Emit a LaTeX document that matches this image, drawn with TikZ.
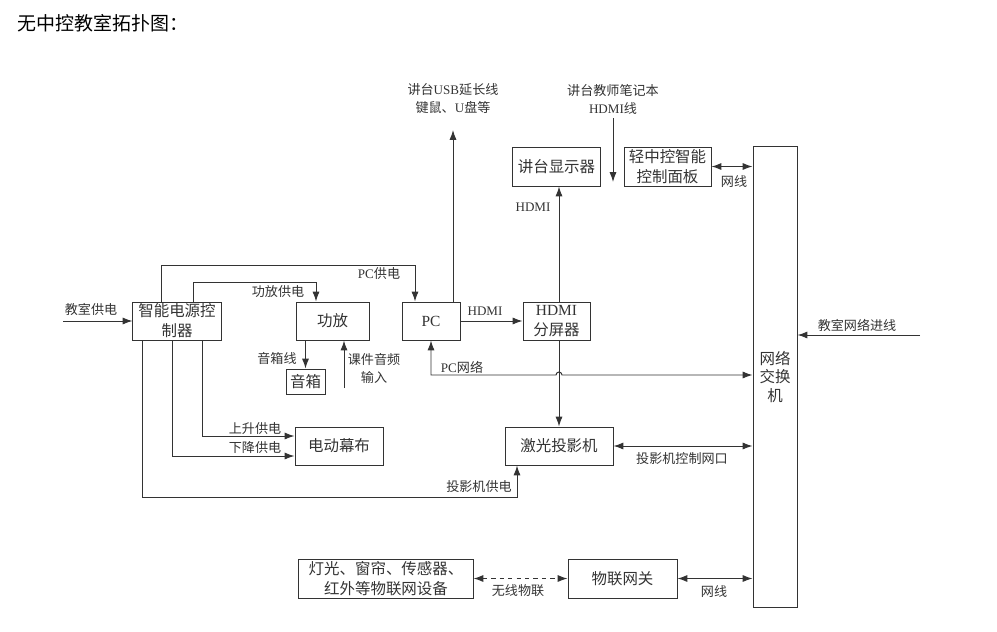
\documentclass[tikz,border=0pt]{standalone}
\usepackage{fontspec}
\setmainfont{Noto Sans CJK SC}
\newfontfamily\ltn{Liberation Serif}
\usepackage{tikz}
\usetikzlibrary{arrows.meta}
\tikzset{>={Latex[length=7pt,width=5pt]}}
\tikzset{
  box/.style={draw,inner sep=0pt,align=center,font=\fontsize{11}{14.2}\selectfont},
  lbl/.style={inner sep=0pt,align=center,font=\fontsize{9.3}{12.8}\selectfont},
}

\begin{document}
\begin{tikzpicture}[x=0.025cm,y=-0.025cm,line width=0.7pt,color=black!80]
	\useasboundingbox (0,0) rectangle (997,631);
	\node[anchor=west,inner sep=0pt,text=black,font=\fontsize{13.5}{16}\selectfont] (title) at (17,23) {无中控教室拓扑图：};
	% boxes
	\node[box,minimum width=2.2cm,minimum height=0.95cm] (pwr) at (177,321) {智能电源控\\制器};
	\node[box,minimum width=1.825cm,minimum height=0.95cm] (amp) at (332.5,321) {功放};
	\node[box,minimum width=0.975cm,minimum height=0.625cm] (spk) at (305.5,381.5) {音箱};
	\node[box,minimum width=1.45cm,minimum height=0.95cm] (pc) at (431,321) {\ltn PC};
	\node[box,minimum width=1.675cm,minimum height=0.95cm] (split) at (556.5,321) {{\ltn HDMI}\\分屏器};
	\node[box,minimum width=2.7cm,minimum height=0.95cm] (proj) at (559,446) {激光投影机};
	\node[box,minimum width=2.2cm,minimum height=0.975cm] (disp) at (556.5,166.5) {讲台显示器};
	\node[box,minimum width=2.175cm,minimum height=0.975cm] (panel) at (667.5,166.5) {轻中控智能\\控制面板};
	\node[box,minimum width=1.1cm,minimum height=11.5cm,font=\fontsize{11}{13.5}\selectfont] (sw) at (775,377) {网络\\交换\\机};
	\node[box,minimum width=2.2cm,minimum height=0.95cm] (screen) at (339,446) {电动幕布};
	\node[box,minimum width=4.35cm,minimum height=0.975cm] (iot) at (386,578.5) {灯光、窗帘、传感器、\\红外等物联网设备};
	\node[box,minimum width=2.725cm,minimum height=0.975cm] (gw) at (622.5,578.5) {物联网关};
	% free ends and bends
	\coordinate (pwrin) at (63,321);
	\coordinate (pcpwA) at (161,265);
	\coordinate (pcpwB) at (415,265);
	\coordinate (amppwA) at (193,282);
	\coordinate (amppwB) at (316,282);
	\coordinate (audin) at (344,388);
	\coordinate (upA) at (202,436);
	\coordinate (dnA) at (172,456);
	\coordinate (pjA) at (142,497);
	\coordinate (pjB) at (517,497);
	\coordinate (usb) at (453,130);
	\coordinate (lapA) at (613,118);
	\coordinate (lapB) at (613,182);
	\coordinate (netin) at (920,335);
	\coordinate (hopL) at (556,375);
	% power
	\draw[->] (pwrin)--(pwr.west);
	\node[lbl] (lpwrin) at (91,309) {教室供电};
	\draw[->] (pcpwA |- pwr.north)--(pcpwA)--(pcpwB)--(pcpwB |- pc.north);
	\node[lbl] (lpcpw) at (379,274) {{\ltn PC}供电};
	\draw[->] (amppwA |- pwr.north)--(amppwA)--(amppwB)--(amppwB |- amp.north);
	\node[lbl] (lamppw) at (278,292) {功放供电};
	\draw[->] (upA |- pwr.south)--(upA)--(upA -| screen.west);
	\node[lbl] (lup) at (255,429) {上升供电};
	\draw[->] (dnA |- pwr.south)--(dnA)--(dnA -| screen.west);
	\node[lbl] (ldn) at (255,448) {下降供电};
	\draw[->] (pjA |- pwr.south)--(pjA)--(pjB)--(pjB |- proj.south);
	\node[lbl] (lpjpw) at (479,487) {投影机供电};
	% audio
	\draw[->] (spk |- amp.south)--(spk.north);
	\node[lbl] (lspk) at (277,358) {音箱线};
	\draw[->] (audin)--(audin |- amp.south);
	\node[lbl] (laud) at (374,368) {课件音频\\输入};
	% video
	\draw[->] (usb |- pc.north)--(usb);
	\node[lbl] (lusb) at (453,99) {讲台{\ltn USB}延长线\\键鼠、{\ltn U}盘等};
	\draw[->] (pc.east)--(split.west);
	\node[lbl] (lhdmi) at (485,311) {\ltn HDMI};
	\draw[->] (split.north -| proj)--(disp.south -| proj);
	\node[lbl] (lhdmi2) at (533,207) {\ltn HDMI};
	\draw[->] (split.south -| proj)--(proj.north);
	\draw[->] (lapA)--(lapB);
	\node[lbl] (llap) at (613,99) {讲台教师笔记本\\{\ltn HDMI}线};
	% network
	\draw[<->] (panel.east)--(panel.east -| sw.west);
	\node[lbl] (lpanel) at (734,182) {网线};
	\draw[->] (netin)--(netin -| sw.east);
	\node[lbl] (lnetin) at (857,325) {教室网络进线};
	\draw[<->] (pc.south) |- (hopL) arc[start angle=180,end angle=0,radius=0.075cm]--(hopL -| sw.west);
	\node[lbl] (lpcnet) at (462,367) {{\ltn PC}网络};
	\draw[<->] (proj.east)--(proj.east -| sw.west);
	\node[lbl] (lproj) at (682,459) {投影机控制网口};
	\draw[<->,dashed] (iot.east)--(gw.west);
	\node[lbl] (liot) at (518,591) {无线物联};
	\draw[<->] (gw.east)--(gw.east -| sw.west);
	\node[lbl] (lgw) at (714,591) {网线};
\end{tikzpicture}
\end{document}
